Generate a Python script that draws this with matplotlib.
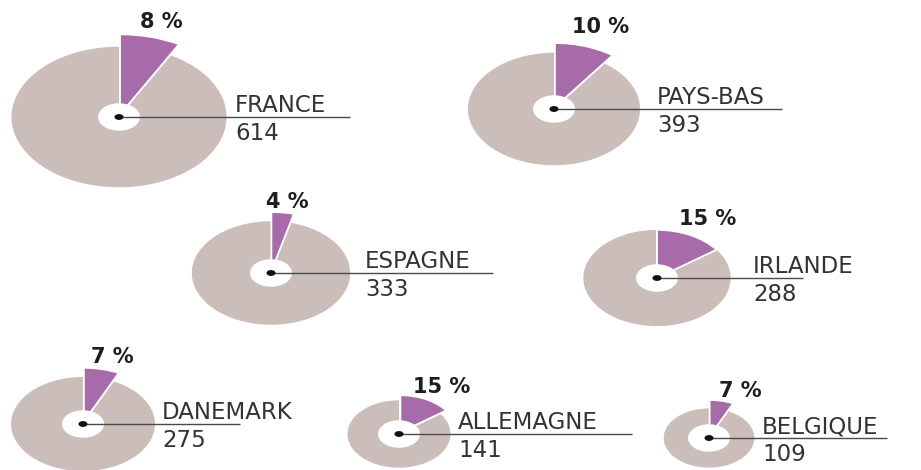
import numpy as np
import matplotlib
matplotlib.use("Agg")
import matplotlib.pyplot as plt
from matplotlib.patches import Circle

# ---- data ----
countries = ["FRANCE", "PAYS-BAS", "ESPAGNE", "IRLANDE", "DANEMARK", "ALLEMAGNE", "BELGIQUE"]
totals = [614, 393, 333, 288, 275, 141, 109]
shares = [8, 10, 4, 15, 7, 15, 7]

# ---- layout (pixel coordinates) ----
centers_x = [119, 554, 271, 657, 83, 399, 709]
centers_y = [117, 109, 273, 278, 424, 434, 438]
label_x = [235, 657, 365, 753, 162, 458, 762]
line_end = [350, 782, 493, 803, 240, 632, 887]
pct_x = [161, 601, 287, 708, 112, 442, 740]
pct_y = [28, 33, 208, 225, 363, 393, 397]
wedge_scale = [1.14, 1.14, 1.14, 1.0, 1.14, 1.10, 1.22]
wedge_shift = [4, 3, 3, 0, 4, 3, 3]

GREY = "#cbbeba"
PURPLE = "#a66ba8"
K = 4.34          # radius scale (area proportional to totals)
S = 1.53          # horizontal stretch of the graphic
W, H = 921, 470

fig = plt.figure(figsize=(W / 100, H / 100), dpi=100)
ax = fig.add_axes([0, 0, 1, 1])

def Y(py):
    return py * S

for i in range(len(countries)):
    cx, cy = centers_x[i], Y(centers_y[i])
    r = K * np.sqrt(totals[i])
    # y axis is inverted: start at visual top (-90 in data) and go counterclockwise
    # in data, which reads clockwise on the picture
    wedges, _ = ax.pie([shares[i], 100 - shares[i]], colors=[PURPLE, GREY],
                       startangle=-90, counterclock=True, radius=r,
                       center=(cx, cy), explode=[wedge_shift[i], 0],
                       frame=True)
    wedges[1].set_linewidth(0)
    wedges[0].set_edgecolor("white")
    wedges[0].set_linewidth(1.3)
    wedges[0].set_radius(r * wedge_scale[i])
    wedges[0].set_zorder(3)
    wedges[1].set_zorder(2)
    ax.add_patch(Circle((cx, cy), 21, facecolor="white", edgecolor="none", zorder=4))
    ax.plot([cx, line_end[i]], [cy, cy], color="#4a4a4a", lw=1.0, zorder=5,
            solid_capstyle="butt")
    ax.add_patch(Circle((cx, cy), 4.5, facecolor="#111111", edgecolor="none", zorder=6))
    ax.text(label_x[i], Y(centers_y[i] - 5), countries[i], fontsize=16.5,
            color="#333333", ha="left", va="baseline", family="DejaVu Sans", zorder=7)
    ax.text(label_x[i], Y(centers_y[i] + 23), str(totals[i]), fontsize=16.5,
            color="#333333", ha="left", va="baseline", family="DejaVu Sans", zorder=7)
    ax.text(pct_x[i], Y(pct_y[i]), f"{shares[i]} %", fontsize=15, fontweight="bold",
            color="#1e1e1e", ha="center", va="baseline", family="DejaVu Sans", zorder=7)

ax.set_aspect("auto")
ax.set_xlim(0, W)
ax.set_ylim(Y(H), 0)
ax.axis("off")
fig.savefig("out.png", dpi=100, facecolor="white")
